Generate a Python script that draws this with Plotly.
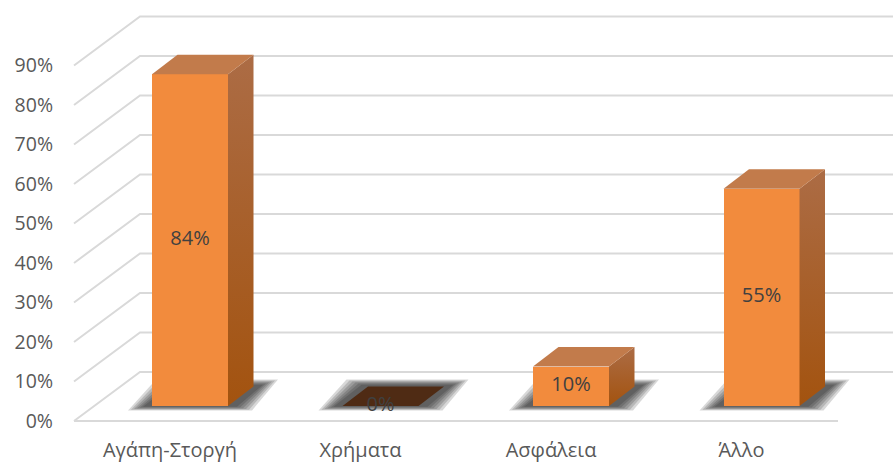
import plotly.graph_objects as go

# ---------------- data ----------------
categories = ["Αγάπη-Στοργή", "Χρήματα", "Ασφάλεια", "Άλλο"]
values = [0.84, 0.00, 0.10, 0.55]
value_labels = ["84%", "0%", "10%", "55%"]
tick_values = [0.0, 0.1, 0.2, 0.3, 0.4, 0.5, 0.6, 0.7, 0.8, 0.9]
tick_labels = ["0%", "10%", "20%", "30%", "40%", "50%", "60%", "70%", "80%", "90%"]

# ---------------- geometry / style ----------------
W, H = 893, 464
ML, MR, MT, MB = 60, 0, 0, 28
PX_PER_CAT = 190.5
CAT0_PX = 170.0
PX_PER_UNIT = 395.0
BASE_PX = 406.0

x_range = [(ML - CAT0_PX) / PX_PER_CAT, (W - MR - CAT0_PX) / PX_PER_CAT]
y_range = [(BASE_PX - (H - MB)) / PX_PER_UNIT, (BASE_PX - MT) / PX_PER_UNIT]


def dx(p):
    return p / PX_PER_CAT


def dy(p):
    return p / PX_PER_UNIT


BAR_SHIFT = dx(20)
BAR_W = dx(76)
DEPTH_X = dx(25.5)
DEPTH_Y = dy(19.5)
FRONT_DROP = dy(15)
BACK_RISE = dy(34)
WALL_FRONT_X = (74 - CAT0_PX) / PX_PER_CAT
WALL_BACK_X = (140 - CAT0_PX) / PX_PER_CAT
FLOOR_END_X = (838 - CAT0_PX) / PX_PER_CAT

FRONT_COLOR = "#F28B3D"
TOP_COLOR = "#C27B4B"
ZERO_TOP_COLOR = "#4F2B14"
SIDE_TOP = "#AC6C45"
SIDE_BOTTOM = "#A3530F"
GRID_COLOR = "#D9D9D9"
TEXT_COLOR = "#595959"
FONT = "Open Sans"

fig = go.Figure()

# gridlines: side wall diagonals + back wall horizontals
gx, gy = [], []
for t in tick_values:
    gx += [WALL_FRONT_X, WALL_BACK_X, x_range[1] + 1, None]
    gy += [t - FRONT_DROP, t + BACK_RISE, t + BACK_RISE, None]
gx += [WALL_FRONT_X, FLOOR_END_X, None]
gy += [-FRONT_DROP, -FRONT_DROP, None]
fig.add_trace(go.Scatter(x=gx, y=gy, mode="lines", line=dict(color=GRID_COLOR, width=2),
                         hoverinfo="skip", showlegend=False, zorder=-3))

# soft (layered) shadows on the floor
for i, v in enumerate(values):
    cx = i + BAR_SHIFT
    L, R = cx - BAR_W / 2, cx + BAR_W / 2
    for e in [16, 13, 10, 7, 4, 1]:
        bot = -dy(0.5 + e * 0.25)
        top = dy(21 + e * 0.35)
        sx = [L - dx(8 + e), R + dx(8 + e), R + dx(34 + e), L + dx(20 - e), L - dx(8 + e)]
        sy = [bot, bot, top, top, bot]
        fig.add_trace(go.Scatter(x=sx, y=sy, mode="lines", fill="toself",
                                 fillcolor="rgba(10,10,10,0.16)", line=dict(width=0),
                                 hoverinfo="skip", showlegend=False, zorder=-2))

# front faces
fig.add_trace(go.Bar(x=[i + BAR_SHIFT for i in range(len(values))], y=values, width=BAR_W,
                     marker=dict(color=FRONT_COLOR, line=dict(width=0)),
                     hoverinfo="skip", showlegend=False, zorder=0))

# side and top faces
for i, v in enumerate(values):
    cx = i + BAR_SHIFT
    L, R = cx - BAR_W / 2, cx + BAR_W / 2
    if v > 0:
        fig.add_trace(go.Scatter(
            x=[R, R + DEPTH_X, R + DEPTH_X, R, R],
            y=[0, DEPTH_Y, v + DEPTH_Y, v, 0],
            mode="lines", fill="toself", line=dict(width=0),
            fillgradient=dict(type="vertical", colorscale=[[0, SIDE_BOTTOM], [1, SIDE_TOP]],
                              start=0, stop=v + DEPTH_Y),
            hoverinfo="skip", showlegend=False, zorder=1))
    fig.add_trace(go.Scatter(
        x=[L, L + DEPTH_X, R + DEPTH_X, R, L],
        y=[v, v + DEPTH_Y, v + DEPTH_Y, v, v],
        mode="lines", fill="toself", line=dict(width=0),
        fillcolor=TOP_COLOR if v > 0 else ZERO_TOP_COLOR,
        hoverinfo="skip", showlegend=False, zorder=1))

# value labels
fig.add_trace(go.Scatter(x=[i + BAR_SHIFT for i in range(len(values))], y=[v / 2 for v in values],
                         mode="text", text=value_labels,
                         textfont=dict(family=FONT, size=20, color="#404040"),
                         hoverinfo="skip", showlegend=False, zorder=2))

fig.update_layout(
    width=W, height=H,
    margin=dict(l=ML, r=MR, t=MT, b=MB),
    paper_bgcolor="white", plot_bgcolor="white",
    font=dict(family=FONT, size=20, color=TEXT_COLOR),
    bargap=0,
    xaxis=dict(range=x_range, tickvals=list(range(len(categories))), ticktext=categories,
               showgrid=False, zeroline=False, showline=False, ticks="",
               tickfont=dict(family=FONT, size=20, color=TEXT_COLOR), fixedrange=True),
    yaxis=dict(range=y_range, tickvals=[t - FRONT_DROP for t in tick_values], ticktext=tick_labels,
               showgrid=False, zeroline=False, showline=False, ticks="",
               ticklabelstandoff=6,
               tickfont=dict(family=FONT, size=19.5, color=TEXT_COLOR), fixedrange=True),
)

fig.write_html("out.html", config={"displayModeBar": False},
               post_script="document.body.style.margin='0';document.body.style.padding='0';")
